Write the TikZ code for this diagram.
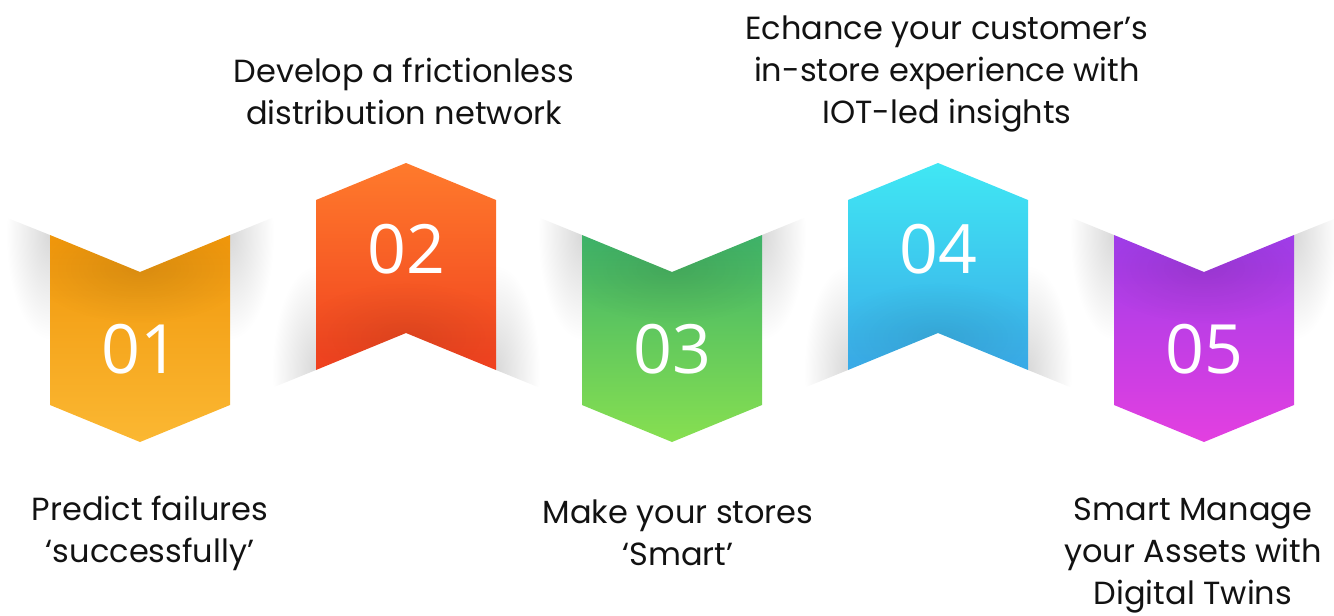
\documentclass[tikz,border=0pt]{standalone}
\usepackage{fontspec}
\setmainfont{Poppins}
\newfontfamily\numfont{Open Sans}
\usetikzlibrary{fadings}

% soft round spot: opaque in the middle, clear at the rim
\tikzfading[name=softspot, inner color=transparent!0, outer color=transparent!100]

\begin{document}
\begin{tikzpicture}[x=1pt,y=-1pt,
  caption/.style={align=center, font=\fontsize{32}{42}\selectfont, text=black!93},
  stepnum/.style={font=\numfont\fontsize{68}{68}\selectfont, text=white},
  creaseshadow/.style={inner color=black!15, outer color=white},
]
\useasboundingbox (0,0) rectangle (1334,616);

% ---- soft shadows on the white folds of the ribbon ----
% left end fold
\begin{scope}
  \clip (0,215) -- (50,235) -- (50,405) -- (0,385) -- cycle;
  \shade[creaseshadow] (50,235) ellipse [x radius=44, y radius=105];
\end{scope}
% folds between a down panel (left) and an up panel (right)
\foreach \c in {140,672}{
  \begin{scope}
    \clip (\c+90,235) -- (\c+176,200) -- (\c+176,370) -- (\c+90,405) -- cycle;
    \shade[creaseshadow] (\c+90,235) ellipse [x radius=44, y radius=105];
    \shade[creaseshadow] (\c+176,370) ellipse [x radius=44, y radius=105];
  \end{scope}
}
% folds between an up panel (left) and a down panel (right)
\foreach \c in {406,938}{
  \begin{scope}
    \clip (\c+90,200) -- (\c+176,235) -- (\c+176,405) -- (\c+90,370) -- cycle;
    \shade[creaseshadow] (\c+90,370) ellipse [x radius=44, y radius=105];
    \shade[creaseshadow] (\c+176,235) ellipse [x radius=44, y radius=105];
  \end{scope}
}
% right end fold
\begin{scope}
  \clip (1294,235) -- (1334,219) -- (1334,389) -- (1294,405) -- cycle;
  \shade[creaseshadow] (1294,235) ellipse [x radius=44, y radius=105];
\end{scope}

% ---- panels pointing down ----
\foreach \c/\ta/\tb/\n in {140/F0960A/FBB833/01, 672/3DB26A/88E050/03, 1204/9E3DEA/E43FE0/05}{
  \definecolor{paneltop}{HTML}{\ta}
  \definecolor{panelbot}{HTML}{\tb}
  \begin{scope}
    \clip (\c-90,235) -- (\c,272) -- (\c+90,235) -- (\c+90,405) -- (\c,442) -- (\c-90,405) -- cycle;
    \shade[top color=paneltop, bottom color=panelbot] (\c-92,230) rectangle (\c+92,445);
    \fill[black, opacity=.10, path fading=softspot] (\c,268) ellipse [x radius=110, y radius=55];
  \end{scope}
  \node[stepnum] (n\n) at (\c,349) {\n};
}

% ---- panels pointing up ----
\foreach \c/\ta/\tb/\n in {406/FF7B2C/F0401F/02, 938/40E8F4/3AAAE8/04}{
  \definecolor{paneltop}{HTML}{\ta}
  \definecolor{panelbot}{HTML}{\tb}
  \begin{scope}
    \clip (\c-90,200) -- (\c,163) -- (\c+90,200) -- (\c+90,370) -- (\c,333) -- (\c-90,370) -- cycle;
    \shade[top color=paneltop, bottom color=panelbot] (\c-92,160) rectangle (\c+92,372);
    \fill[black, opacity=.09, path fading=softspot] (\c,337) ellipse [x radius=110, y radius=55];
  \end{scope}
  \node[stepnum] (n\n) at (\c,249) {\n};
}

% ---- captions ----
\node[caption] (t1) at (150,533) {Predict failures\\‘successfully’};
\node[caption] (t2) at (404,91) {Develop a frictionless\\distribution network};
\node[caption] (t3) at (678,533) {Make your stores\\‘Smart’};
\node[caption] (t4) at (947,74) {Echance your customer’s\\in-store experience with\\IOT-led insights};
\node[caption] (t5) at (1193,556) {Smart Manage\\your Assets with\\Digital Twins};
\end{tikzpicture}
\end{document}
